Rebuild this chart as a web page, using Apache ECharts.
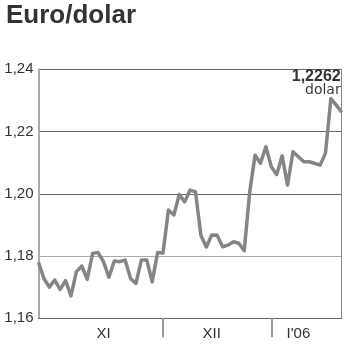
<!DOCTYPE html>
<html>
<head>
<meta charset="utf-8">
<script src="https://cdn.jsdelivr.net/npm/echarts@6/dist/echarts.min.js"></script>
<style>
html,body{margin:0;padding:0;background:#fff;}
#chart{width:350px;height:351px;}
</style>
</head>
<body>
<div id="chart"></div>
<script>
// Trading-day index labels (Nov 2005 – early Jan 2006)
var days = ['1','2','3','4','5','6','7','8','9','10','11','12','13','14','15','16','17','18','19','20','21','22','23','24','25','26','27','28','29','30','31','32','33','34','35','36','37','38','39','40','41','42','43','44','45','46','47','48','49','50','51','52','53','54','55','56','57'];
// EUR/USD rate
var rates = [1.1780,1.1728,1.1700,1.1723,1.1693,1.1721,1.1672,1.1750,1.1768,1.1725,
             1.1809,1.1811,1.1782,1.1732,1.1784,1.1782,1.1787,1.1728,1.1712,1.1787,
             1.1787,1.1717,1.1811,1.1810,1.1948,1.1932,1.1998,1.1974,1.2012,1.2006,
             1.1866,1.1829,1.1868,1.1867,1.1830,1.1835,1.1846,1.1841,1.1817,1.2005,
             1.2124,1.2098,1.2151,1.2087,1.2062,1.2122,1.2028,1.2135,1.2119,1.2103,
             1.2103,1.2098,1.2092,1.2130,1.2306,1.2285,1.2262];
var monthLabels = ['XI','XII',"I'06"];
var monthLabelIdx = [12, 32, 48];
var monthSeparatorIdx = [23, 43];
var yTicks = [1.16, 1.18, 1.20, 1.22, 1.24];
var annotationUnit = 'dolar';

function fmt(v, d){ return v.toFixed(d).replace('.', ','); }

var chart = echarts.init(document.getElementById('chart'), null, {renderer:'canvas'});
var last = rates.length - 1;
var seriesData = rates.map(function(v, i){
  if (i !== last) return v;
  return {
    value: v,
    label: {
      show: true,
      position: 'top',
      align: 'right',
      distance: 14,
      offset: [-1, 0],
      formatter: function(p){ return '{b|' + fmt(p.value, 4) + '}\n{d|' + annotationUnit + '}'; },
      rich: {
        b: {fontFamily:'Liberation Sans', fontWeight:'bold', fontSize:16, color:'#333', align:'right', lineHeight:13},
        d: {fontFamily:'DejaVu Sans', fontSize:14, color:'#3a3a3a', align:'right', lineHeight:15}
      }
    }
  };
});

chart.setOption({
  animation: false,
  backgroundColor: '#fff',
  title: {
    text: 'Euro/dolar',
    left: 6, top: 3, padding: 0,
    textStyle: {fontFamily:'Liberation Sans', fontWeight:'bold', fontSize:26, color:'#333'}
  },
  grid: {left: 38.5, right: 8.3, top: 69.3, bottom: 32.7, containLabel: false},
  xAxis: {
    type: 'category',
    data: days,
    boundaryGap: false,
    axisLine: {show: true, lineStyle: {color:'#666', width:1}},
    axisTick: {
      show: true, length: 19, inside: false,
      interval: function(i){ return monthSeparatorIdx.indexOf(i) >= 0; },
      lineStyle: {color:'#999', width:2}
    },
    axisLabel: {
      show: true, margin: 8,
      interval: function(i){ return monthLabelIdx.indexOf(i) >= 0; },
      formatter: function(v, i){ var k = monthLabelIdx.indexOf(i); return k >= 0 ? monthLabels[k] : ''; },
      fontFamily: 'Liberation Sans', fontSize: 15, color:'#333'
    },
    splitLine: {show: false}
  },
  yAxis: [{
    type: 'value',
    min: yTicks[0], max: yTicks[yTicks.length-1], interval: 0.02,
    axisLine: {show: true, lineStyle: {color:'#aaa', width:2}},
    axisTick: {show: false},
    axisLabel: {
      margin: 5, fontFamily:'Liberation Sans', fontSize: 15, color:'#333',
      padding: [0,0,4,0],
      formatter: function(v){ return fmt(v, 2); }
    },
    splitLine: {show: true, lineStyle: {color: ['#666','#aaa','#666','#666','#666'], width: 1}}
  },{
    type: 'value',
    position: 'right',
    min: yTicks[0], max: yTicks[yTicks.length-1], interval: 0.02,
    axisLine: {show: true, lineStyle: {color:'#888', width:1}},
    axisTick: {show: false},
    axisLabel: {show: false},
    splitLine: {show: false}
  }],
  series: [{
    type: 'line',
    data: seriesData,
    symbol: 'circle',
    symbolSize: 0,
    showSymbol: true,
    lineStyle: {color:'#858585', width:3.5, join:'round'},
    itemStyle: {color:'#858585'},
    z: 5
  }]
});
</script>
</body>
</html>
